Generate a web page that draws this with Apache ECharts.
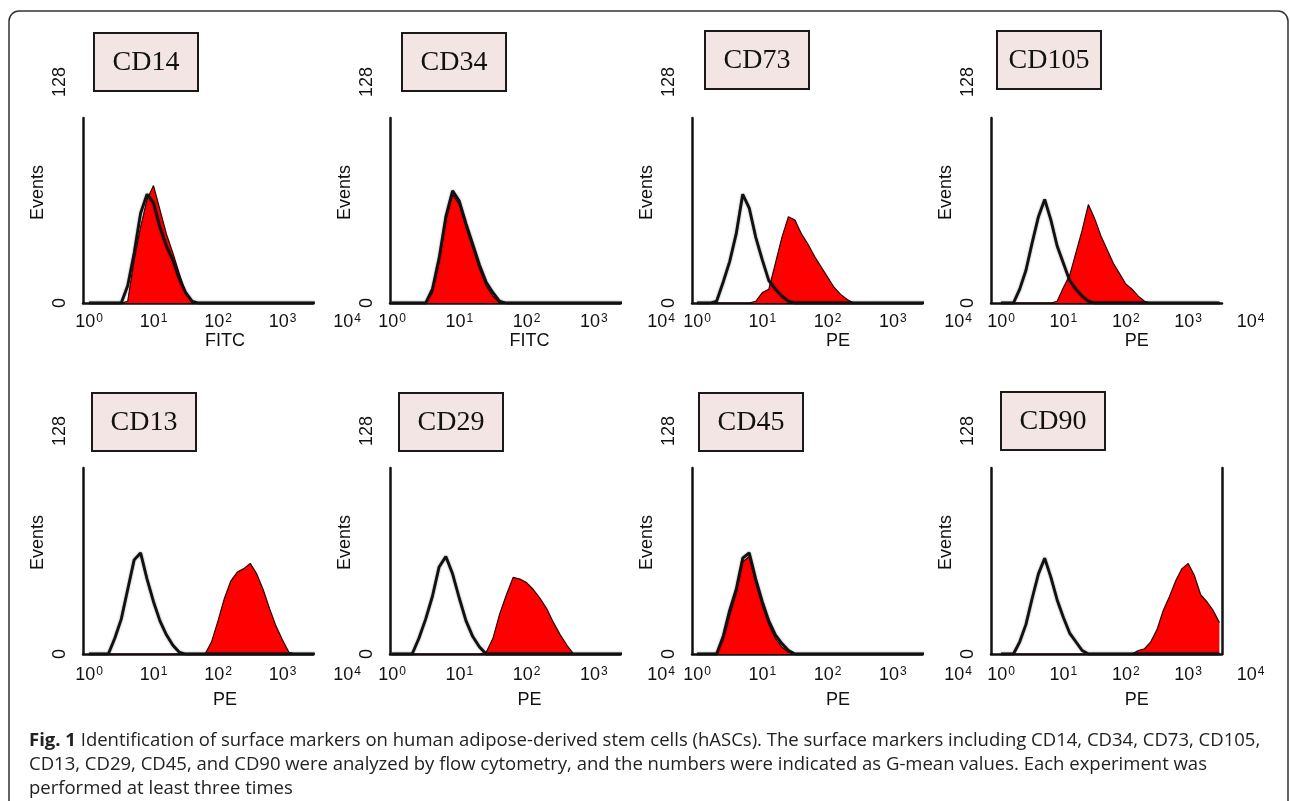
<!DOCTYPE html>
<html>
<head>
<meta charset="utf-8">
<title>Fig. 1 hASC surface markers</title>
<script src="https://cdn.jsdelivr.net/npm/echarts@6.0.0/dist/echarts.min.js"></script>
<style>
  html, body { margin: 0; padding: 0; background: #fff; }
  #main { width: 1290px; height: 801px; }
</style>
</head>
<body>
<div id="main"></div>
<script>
// fluorescence bins, in decades (log10 of intensity)
var logX = [0.0, 0.1, 0.2, 0.3, 0.4, 0.5, 0.6, 0.7, 0.8, 0.9, 1.0, 1.1, 1.2, 1.3, 1.4, 1.5, 1.6, 1.7,
            1.8, 1.9, 2.0, 2.1, 2.2, 2.3, 2.4, 2.5, 2.6, 2.7, 2.8, 2.9, 3.0, 3.1, 3.2, 3.3, 3.4, 3.5];

// events per bin: isotype control (black outline) and stained cells (red)
var cd14Ctrl  = [0,0,0,0,0,0,10,29,52,63,58,44,33,25,14,6,1,0,0,0,0,0,0,0,0,0,0,0,0,0,0,0,0,0,0,0];
var cd14Pos   = [0,0,0,0,0,0,1,25,44,60,68,54,40,29,17,6,0,0,0,0,0,0,0,0,0,0,0,0,0,0,0,0,0,0,0,0];
var cd34Ctrl  = [0,0,0,0,0,0,8,26,50,65,59,46,34,22,12,6,1,0,0,0,0,0,0,0,0,0,0,0,0,0,0,0,0,0,0,0];
var cd34Pos   = [0,0,0,0,0,0,6,24,48,63,57,44,32,20,10,4,0,0,0,0,0,0,0,0,0,0,0,0,0,0,0,0,0,0,0,0];
var cd73Ctrl  = [0,0,0,1,12,24,40,63,55,38,25,13,8,4,1,0,0,0,0,0,0,0,0,0,0,0,0,0,0,0,0,0,0,0,0,0];
var cd73Pos   = [0,0,0,0,0,0,0,0,0,1,6,8,23,38,50,48,40,34,27,21,15,9,5,2,0,0,0,0,0,0,0,0,0,0,0,0];
var cd105Ctrl = [0,0,0,8,19,35,50,60,48,33,23,13,8,4,1,0,0,0,0,0,0,0,0,0,0,0,0,0,0,0,0,0,0,0,0,0];
var cd105Pos  = [0,0,0,0,0,0,0,0,0,1,9,16,29,42,57,49,39,31,23,17,11,8,4,1,0,0,0,0,0,0,0,0,0,0,0,0];
var cd13Ctrl  = [0,0,0,0,9,20,37,54,58,43,30,19,11,5,1,0,0,0,0,0,0,0,0,0,0,0,0,0,0,0,0,0,0,0,0,0];
var cd13Pos   = [0,0,0,0,0,0,0,0,0,0,0,0,0,0,0,0,0,0,0,7,19,32,42,47,49,52,46,37,26,16,8,1,0,0,0,0];
var cd29Ctrl  = [0,0,0,0,9,20,33,50,56,46,32,19,10,4,0,0,0,0,0,0,0,0,0,0,0,0,0,0,0,0,0,0,0,0,0,0];
var cd29Pos   = [0,0,0,0,0,0,0,0,0,0,0,0,0,0,1,9,23,34,44,43,41,37,32,26,18,11,5,0,0,0,0,0,0,0,0,0];
var cd45Ctrl  = [0,0,0,0,10,25,37,55,58,43,30,19,11,6,2,0,0,0,0,0,0,0,0,0,0,0,0,0,0,0,0,0,0,0,0,0];
var cd45Pos   = [0,0,0,0,8,22,35,53,56,41,28,17,9,4,1,0,0,0,0,0,0,0,0,0,0,0,0,0,0,0,0,0,0,0,0,0];
var cd90Ctrl  = [0,0,0,7,17,32,46,55,44,31,21,12,7,2,0,0,0,0,0,0,0,0,0,0,0,0,0,0,0,0,0,0,0,0,0,0];
var cd90Pos   = [0,0,0,0,0,0,0,0,0,0,0,0,0,0,0,0,0,0,0,0,0,0,2,3,7,14,25,33,42,49,52,45,34,30,25,18];

var markers  = ['CD14', 'CD34', 'CD73', 'CD105', 'CD13', 'CD29', 'CD45', 'CD90'];
var channels = ['FITC', 'FITC', 'PE', 'PE', 'PE', 'PE', 'PE', 'PE'];
var ctrlData = [cd14Ctrl, cd34Ctrl, cd73Ctrl, cd105Ctrl, cd13Ctrl, cd29Ctrl, cd45Ctrl, cd90Ctrl];
var posData  = [cd14Pos, cd34Pos, cd73Pos, cd105Pos, cd13Pos, cd29Pos, cd45Pos, cd90Pos];
var decades  = [0, 1, 2, 3, 4];   // x tick labels 10^0 .. 10^4
var eventTicks = [0, 128];        // y tick labels

// panel placement in pixels (x0 = position of 10^0, dx = pixels per decade)
var cols = [
  { x0: 89,   dx: 64.5, start: 83,  end: 313,  nameShift: 10 },
  { x0: 392,  dx: 67.3, start: 390, end: 620,  nameShift: 4 },
  { x0: 697,  dx: 65.3, start: 692, end: 922,  nameShift: 13 },
  { x0: 1001, dx: 62.4, start: 991, end: 1222, nameShift: 16 }
];
var rows = [
  { base: 303, y128: 82,  top: 118, labelGap: 10, nameGap: 28 },
  { base: 654, y128: 431, top: 468, labelGap: 12, nameGap: 37 }
];
var boxes = [[94, 33], [402, 33], [705, 31], [997, 31], [92, 393], [399, 393], [699, 393], [1001, 392]];

var font = '"Liberation Sans", Arial, sans-serif';
var ink = '#111';

function pairs(ys) {
  return ys.map(function (y, i) { return [logX[i], y]; });
}

var grid = [], xAxis = [], yAxis = [], series = [], graphic = [];

graphic.push({
  type: 'rect', z: 0,
  shape: { x: 9, y: 11, width: 1279, height: 840, r: 10 },
  style: { fill: 'none', stroke: '#333', lineWidth: 1.5 }
});

markers.forEach(function (name, p) {
  var c = cols[p % 4], r = rows[Math.floor(p / 4)];
  var xmin = (c.start - c.x0) / c.dx;
  var xmax = (c.end - c.x0) / c.dx;
  var pxPerEvent = (r.base - r.y128) / 128;
  var ymax = (r.base - r.top) / pxPerEvent;
  var g = grid.length;
  var line = { show: true, onZero: false, lineStyle: { color: ink, width: 2.5 } };

  // plotting frame
  grid.push({ left: c.start, top: r.top, width: c.end - c.start, height: r.base - r.top });
  // full 10^0..10^4 / 0..128 scale used only for labels
  grid.push({ left: c.start, top: r.y128, width: (4 - xmin) * c.dx, height: r.base - r.y128 });

  xAxis.push({
    type: 'value', gridIndex: g, min: xmin, max: xmax,
    axisLine: line, axisTick: { show: false }, axisLabel: { show: false }, splitLine: { show: false }
  });
  yAxis.push({
    type: 'value', gridIndex: g, min: 0, max: ymax,
    axisLine: line, axisTick: { show: false }, axisLabel: { show: false }, splitLine: { show: false }
  });
  xAxis.push({
    type: 'value', gridIndex: g + 1, min: xmin, max: 4,
    axisLine: { show: false, onZero: false }, axisTick: { show: false }, splitLine: { show: false },
    axisLabel: {
      customValues: decades, margin: r.labelGap,
      formatter: function (v) { return '{b|10}{s|' + v + '}'; },
      rich: {
        b: { fontSize: 18, fontFamily: font, color: ink },
        s: { fontSize: 12, fontFamily: font, color: ink, verticalAlign: 'top', padding: [0, 0, 0, 1] }
      }
    },
    name: channels[p], nameLocation: 'middle', nameGap: r.nameGap,
    nameTextStyle: { fontSize: 18, fontFamily: font, color: ink, padding: [0, 0, 0, 2 * c.nameShift] }
  });
  yAxis.push({
    type: 'value', gridIndex: g + 1, min: 0, max: 128,
    axisLine: { show: false, onZero: false }, axisTick: { show: false }, splitLine: { show: false },
    axisLabel: { customValues: eventTicks, rotate: 90, margin: 14, fontSize: 18, fontFamily: font, color: ink },
    name: 'Events', nameLocation: 'middle', nameGap: 36,
    nameTextStyle: { fontSize: 18, fontFamily: font, color: ink }
  });

  series.push({
    type: 'line', xAxisIndex: g, yAxisIndex: g, data: pairs(posData[p]),
    showSymbol: false, silent: true, z: 2,
    lineStyle: { color: '#2a0000', width: 1.2 },
    areaStyle: { color: '#ff0000', opacity: 1 }
  });
  series.push({
    type: 'line', xAxisIndex: g, yAxisIndex: g, data: pairs(ctrlData[p]),
    showSymbol: false, silent: true, z: 3,
    lineStyle: { color: ink, width: 2.8, shadowBlur: 2, shadowColor: 'rgba(0,0,0,0.5)' }
  });

  var b = boxes[p];
  graphic.push({
    type: 'group', z: 10,
    children: [
      { type: 'rect', shape: { x: b[0], y: b[1], width: 104, height: 58 },
        style: { fill: '#f2e5e3', stroke: '#1a1a1a', lineWidth: 2 } },
      { type: 'text', x: b[0] + 52, y: b[1] + 30,
        style: { text: name, fontSize: 28, fontFamily: '"Liberation Serif", "Times New Roman", serif',
                 fill: ink, align: 'center', verticalAlign: 'middle' } }
    ]
  });
});

// CD90 panel is boxed on the right as well
yAxis.push({
  type: 'value', gridIndex: 14, position: 'right', min: 0, max: 1,
  axisLine: { show: true, onZero: false, lineStyle: { color: ink, width: 2.5 } },
  axisTick: { show: false }, axisLabel: { show: false }, splitLine: { show: false }
});

var chart = echarts.init(document.getElementById('main'));
chart.setOption({
  animation: false,
  backgroundColor: '#fff',
  title: {
    left: 24, top: 724,
    text: '{b|Fig. 1} Identification of surface markers on human adipose-derived stem cells (hASCs). The surface markers including CD14, CD34, CD73, CD105,\n' +
          'CD13, CD29, CD45, and CD90 were analyzed by flow cytometry, and the numbers were indicated as G-mean values. Each experiment was\n' +
          'performed at least three times',
    textStyle: {
      fontFamily: '"Open Sans", "Noto Sans", sans-serif', fontSize: 18.5, fontWeight: 'normal',
      color: '#222', lineHeight: 24,
      rich: { b: { fontFamily: '"Open Sans", "Noto Sans", sans-serif', fontSize: 18.5, fontWeight: 'bold', color: '#222', lineHeight: 24 } }
    }
  },
  grid: grid,
  xAxis: xAxis,
  yAxis: yAxis,
  series: series,
  graphic: graphic
});
</script>
</body>
</html>
